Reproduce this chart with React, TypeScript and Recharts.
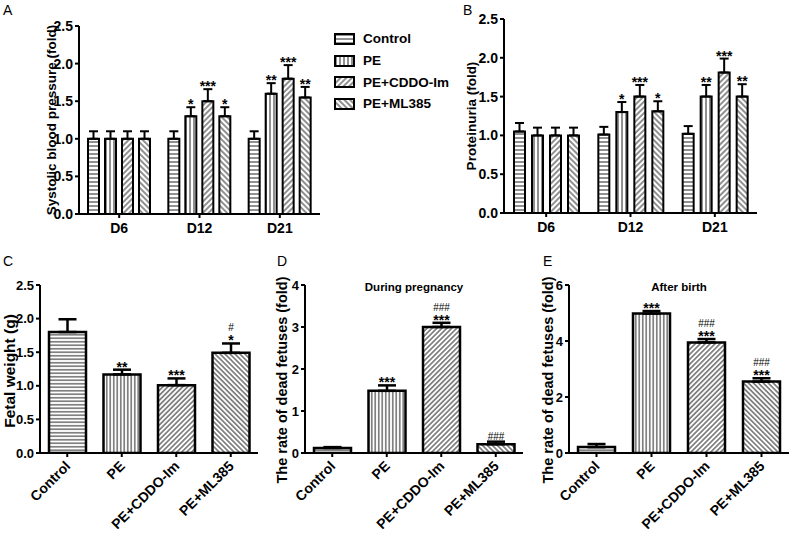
import { Bar, BarChart, Cell, ErrorBar, LabelList, Legend, XAxis, YAxis } from "recharts";

const FONT = "'Liberation Sans', Arial, sans-serif";
const INK = "#000";

// series / categories
const treatments = ["Control", "PE", "PE+CDDO-Im", "PE+ML385"];
const days = ["D6", "D12", "D21"];
const KINDS = ["h", "v", "f", "b"];

// A: systolic blood pressure (fold), per day
const sbpControl = [1.0, 1.0, 1.0];
const sbpPE = [1.0, 1.3, 1.6];
const sbpCddo = [1.0, 1.5, 1.8];
const sbpMl = [1.0, 1.3, 1.55];
const sbpControlErr = [0.1, 0.1, 0.1];
const sbpPEErr = [0.1, 0.12, 0.14];
const sbpCddoErr = [0.1, 0.16, 0.18];
const sbpMlErr = [0.1, 0.12, 0.14];
const sbpControlStars = ["", "", ""];
const sbpPEStars = ["", "*", "**"];
const sbpCddoStars = ["", "***", "***"];
const sbpMlStars = ["", "*", "**"];

// B: proteinuria (fold), per day
const protControl = [1.05, 1.01, 1.02];
const protPE = [1.0, 1.3, 1.5];
const protCddo = [1.0, 1.5, 1.81];
const protMl = [1.0, 1.31, 1.5];
const protControlErr = [0.11, 0.1, 0.1];
const protPEErr = [0.1, 0.13, 0.15];
const protCddoErr = [0.1, 0.15, 0.18];
const protMlErr = [0.1, 0.13, 0.16];
const protControlStars = ["", "", ""];
const protPEStars = ["", "*", "**"];
const protCddoStars = ["", "***", "***"];
const protMlStars = ["", "*", "**"];

// C: fetal weight (g)
const fetalWeight = [1.8, 1.17, 1.01, 1.49];
const fetalWeightErr = [0.19, 0.07, 0.1, 0.14];
const fetalStars = ["", "**", "***", "*"];
const fetalHash = ["", "", "", "#"];

// D: dead fetuses during pregnancy (fold)
const deadDuring = [0.12, 1.48, 3.0, 0.21];
const deadDuringErr = [0.02, 0.13, 0.1, 0.06];
const deadDuringStars = ["", "***", "***", ""];
const deadDuringHash = ["", "", "###", "###"];

// E: dead fetuses after birth (fold)
const deadAfter = [0.21, 4.98, 3.95, 2.55];
const deadAfterErr = [0.11, 0.09, 0.12, 0.12];
const deadAfterStars = ["", "***", "***", "***"];
const deadAfterHash = ["", "", "###", "###"];

const tickStyle = { fill: INK, fontSize: 14, fontWeight: 700, fontFamily: FONT };
const axisStroke = { stroke: INK, strokeWidth: 2 };

function patternDefs(p: string, s: number) {
  return (
    <defs>
      <pattern id={`${p}h`} patternUnits="userSpaceOnUse" width={6} height={s}>
        <rect width={6} height={s} fill="#fff" />
        <line x1={0} x2={6} y1={s / 2} y2={s / 2} stroke="#222" strokeWidth={1} />
      </pattern>
      <pattern id={`${p}v`} patternUnits="userSpaceOnUse" width={s} height={6}>
        <rect width={s} height={6} fill="#fff" />
        <line x1={s / 2} x2={s / 2} y1={0} y2={6} stroke="#222" strokeWidth={1} />
      </pattern>
      <pattern id={`${p}f`} patternUnits="userSpaceOnUse" width={s} height={s} patternTransform="rotate(45)">
        <rect width={s} height={s} fill="#fff" />
        <line x1={s / 2} x2={s / 2} y1={0} y2={s} stroke="#222" strokeWidth={1} />
      </pattern>
      <pattern id={`${p}b`} patternUnits="userSpaceOnUse" width={s} height={s} patternTransform="rotate(-45)">
        <rect width={s} height={s} fill="#fff" />
        <line x1={s / 2} x2={s / 2} y1={0} y2={s} stroke="#222" strokeWidth={1} />
      </pattern>
    </defs>
  );
}

// stars / hashes stacked above the error cap
function annot(vals: number[], errs: number[], stars: string[], hashes: string[]) {
  return (props: any) => {
    const vb = props.viewBox || {};
    const x = vb.x ?? props.x;
    const y = vb.y ?? props.y;
    const w = vb.width ?? props.width;
    const h = vb.height ?? props.height;
    const i = props.index ?? vals.indexOf(props.value);
    const v = vals[i];
    if (!v || (!stars[i] && !hashes[i])) return null;
    const cap = y - (errs[i] * h) / v;
    const cx = x + w / 2;
    let level = 0;
    const out = [];
    if (stars[i]) {
      out.push(
        <text key="s" x={cx} y={cap + 2} textAnchor="middle" fontSize={14} fontWeight={700} fontFamily={FONT} fill={INK}>
          {stars[i]}
        </text>
      );
      level++;
    }
    if (hashes[i]) {
      out.push(
        <text key="h" x={cx} y={cap - 2 - 10 * level} textAnchor="middle" fontSize={10} fontFamily={FONT} fill={INK}>
          {hashes[i]}
        </text>
      );
    }
    return <g>{out}</g>;
  };
}

const SlantTick = (props: any) => {
  const { x, y, payload } = props;
  const ax = x + 4;
  const ay = y + 8;
  return (
    <text x={ax} y={ay} transform={`rotate(-45 ${ax} ${ay})`} textAnchor="end" {...tickStyle}>
      {payload.value}
    </text>
  );
};

const legendContent = () => (
  <div style={{ fontFamily: FONT, fontWeight: 700, fontSize: 13.5, color: INK, whiteSpace: "nowrap" }}>
    {treatments.map((t, k) => (
      <div key={t} style={{ display: "flex", alignItems: "center", height: 21.7 }}>
        <svg width={21} height={12}>
          <rect x={1} y={1} width={19} height={10} fill={`url(#a${KINDS[k]})`} stroke={INK} strokeWidth={2} />
        </svg>
        <span style={{ marginLeft: 8 }}>{t}</span>
      </div>
    ))}
  </div>
);

const yTitle = (value: string, offset: number, fontSize: number, dy = 0) => ({
  value,
  angle: -90,
  position: "insideLeft" as const,
  offset,
  dy,
  style: { textAnchor: "middle", fill: INK, fontSize, fontWeight: 700, fontFamily: FONT },
});

function GroupedChart(props: any) {
  const { left, width, margin, yWidth, xHeight, yLabel, labelX, vals, errs, stars, pid, legend, gap, catGap } = props;
  const rows = days.map((d, i) => {
    const r: any = { day: d };
    vals.forEach((v: number[], k: number) => {
      r[`s${k}`] = v[i];
      r[`e${k}`] = [0, errs[k][i]];
    });
    return r;
  });
  return (
    <div style={{ position: "absolute", left, top: 0 }}>
      <BarChart
        width={width}
        height={260}
        data={rows}
        margin={margin}
        barSize={11}
        barGap={gap}
        barCategoryGap={catGap}
      >
        {patternDefs(pid, 4)}
        <XAxis
          dataKey="day"
          height={xHeight}
          axisLine={axisStroke}
          tickLine={axisStroke}
          tickSize={4}
          tickMargin={5}
          tick={tickStyle}
          interval={0}
        />
        <YAxis
          width={yWidth}
          domain={[0, 2.5]}
          ticks={[0, 0.5, 1, 1.5, 2, 2.5]}
          tickFormatter={(v: number) => v.toFixed(1)}
          axisLine={axisStroke}
          tickLine={axisStroke}
          tickSize={4}
          tick={tickStyle}
          interval={0}
          allowDataOverflow
          label={yTitle(yLabel, labelX, 13.5)}
        />
        {legend && (
          <Legend
            layout="horizontal"
            verticalAlign="middle"
            align="center"
            wrapperStyle={{ left: 334, top: 28, width: 125, height: 90 }}
            content={legendContent}
          />
        )}
        {vals.map((_: number[], k: number) => (
          <Bar
            key={k}
            dataKey={`s${k}`}
            name={treatments[k]}
            barSize={11}
            fill={`url(#${pid}${KINDS[k]})`}
            stroke={INK}
            strokeWidth={2}
            isAnimationActive={false}
          >
            <ErrorBar dataKey={`e${k}`} width={4.5} strokeWidth={2} stroke={INK} direction="y" />
            <LabelList content={annot(vals[k], errs[k], stars[k], ["", "", ""])} />
          </Bar>
        ))}
      </BarChart>
    </div>
  );
}

function SingleChart(props: any) {
  const { left, marginRight, vals, errs, stars, hashes, yMax, ticks, decimals, yLabel, labelX, labelSize, labelDy, pid } =
    props;
  const rows = treatments.map((t, i) => ({ name: t, v: vals[i], e: [0, errs[i]] }));
  return (
    <div style={{ position: "absolute", left, top: 270 }}>
      <BarChart width={265} height={264} data={rows} margin={{ top: 15, right: marginRight, bottom: 0, left: 0 }}>
        {patternDefs(pid, 3.5)}
        <XAxis
          dataKey="name"
          height={81}
          axisLine={axisStroke}
          tickLine={axisStroke}
          tickSize={4}
          tickMargin={2}
          tick={<SlantTick />}
          interval={0}
        />
        <YAxis
          width={40}
          domain={[0, yMax]}
          ticks={ticks}
          tickFormatter={(v: number) => v.toFixed(decimals)}
          axisLine={axisStroke}
          tickLine={axisStroke}
          tickSize={4}
          tick={{ ...tickStyle, fontSize: 13 }}
          interval={0}
          allowDataOverflow
          label={yTitle(yLabel, labelX, labelSize, labelDy)}
        />
        <Bar dataKey="v" barSize={37} stroke={INK} strokeWidth={2.5} isAnimationActive={false}>
          {rows.map((r, i) => (
            <Cell key={r.name} fill={`url(#${pid}${KINDS[i]})`} />
          ))}
          <ErrorBar dataKey="e" width={9} strokeWidth={2.5} stroke={INK} direction="y" />
          <LabelList content={annot(vals, errs, stars, hashes)} />
        </Bar>
      </BarChart>
    </div>
  );
}

const letter = (ch: string, left: number, top: number) => (
  <div style={{ position: "absolute", left, top, fontFamily: FONT, fontSize: 14, lineHeight: "14px", color: INK }}>{ch}</div>
);

const title = (text: string, cx: number) => (
  <div
    style={{
      position: "absolute",
      left: cx - 70,
      top: 280,
      width: 140,
      textAlign: "center",
      fontFamily: FONT,
      fontWeight: 700,
      fontSize: 11.5,
      lineHeight: "14px",
      color: INK,
    }}
  >
    {text}
  </div>
);

export default function App() {
  return (
    <div style={{ position: "absolute", left: 0, top: 0, width: 794, height: 534, background: "#fff", overflow: "hidden" }}>
      <GroupedChart
        left={0}
        width={460}
        margin={{ top: 26, right: 140, bottom: 0, left: 0 }}
        yWidth={79}
        xHeight={46}
        gap={6}
        catGap={9}
        yLabel="Systolic blood pressure (fold)"
        labelX={51}
        vals={[sbpControl, sbpPE, sbpCddo, sbpMl]}
        errs={[sbpControlErr, sbpPEErr, sbpCddoErr, sbpMlErr]}
        stars={[sbpControlStars, sbpPEStars, sbpCddoStars, sbpMlStars]}
        pid="a"
        legend
      />
      <GroupedChart
        left={460}
        width={334}
        margin={{ top: 19, right: 37, bottom: 0, left: 0 }}
        yWidth={44}
        xHeight={47}
        gap={7}
        catGap={10}
        yLabel="Proteinuria (fold)"
        labelX={11}
        vals={[protControl, protPE, protCddo, protMl]}
        errs={[protControlErr, protPEErr, protCddoErr, protMlErr]}
        stars={[protControlStars, protPEStars, protCddoStars, protMlStars]}
        pid="bp"
      />
      <SingleChart
        left={0}
        marginRight={7}
        vals={fetalWeight}
        errs={fetalWeightErr}
        stars={fetalStars}
        hashes={fetalHash}
        yMax={2.5}
        ticks={[0, 0.5, 1, 1.5, 2, 2.5]}
        decimals={1}
        yLabel="Fetal weight (g)"
        labelX={9}
        labelSize={15.5}
        labelDy={2}
        pid="c"
      />
      <SingleChart
        left={265}
        marginRight={7}
        vals={deadDuring}
        errs={deadDuringErr}
        stars={deadDuringStars}
        hashes={deadDuringHash}
        yMax={4}
        ticks={[0, 1, 2, 3, 4]}
        decimals={0}
        yLabel="The rate of dead fetuses (fold)"
        labelX={17}
        labelSize={14.5}
        labelDy={11}
        pid="d"
      />
      <SingleChart
        left={529}
        marginRight={5}
        vals={deadAfter}
        errs={deadAfterErr}
        stars={deadAfterStars}
        hashes={deadAfterHash}
        yMax={6}
        ticks={[0, 2, 4, 6]}
        decimals={0}
        yLabel="The rate of dead fetuses (fold)"
        labelX={19}
        labelSize={14.5}
        labelDy={11}
        pid="e"
      />
      {title("During pregnancy", 414)}
      {title("After birth", 679)}
      {letter("A", 3, 3)}
      {letter("B", 463, 3)}
      {letter("C", 3, 254)}
      {letter("D", 277, 254)}
      {letter("E", 543, 254)}
    </div>
  );
}
